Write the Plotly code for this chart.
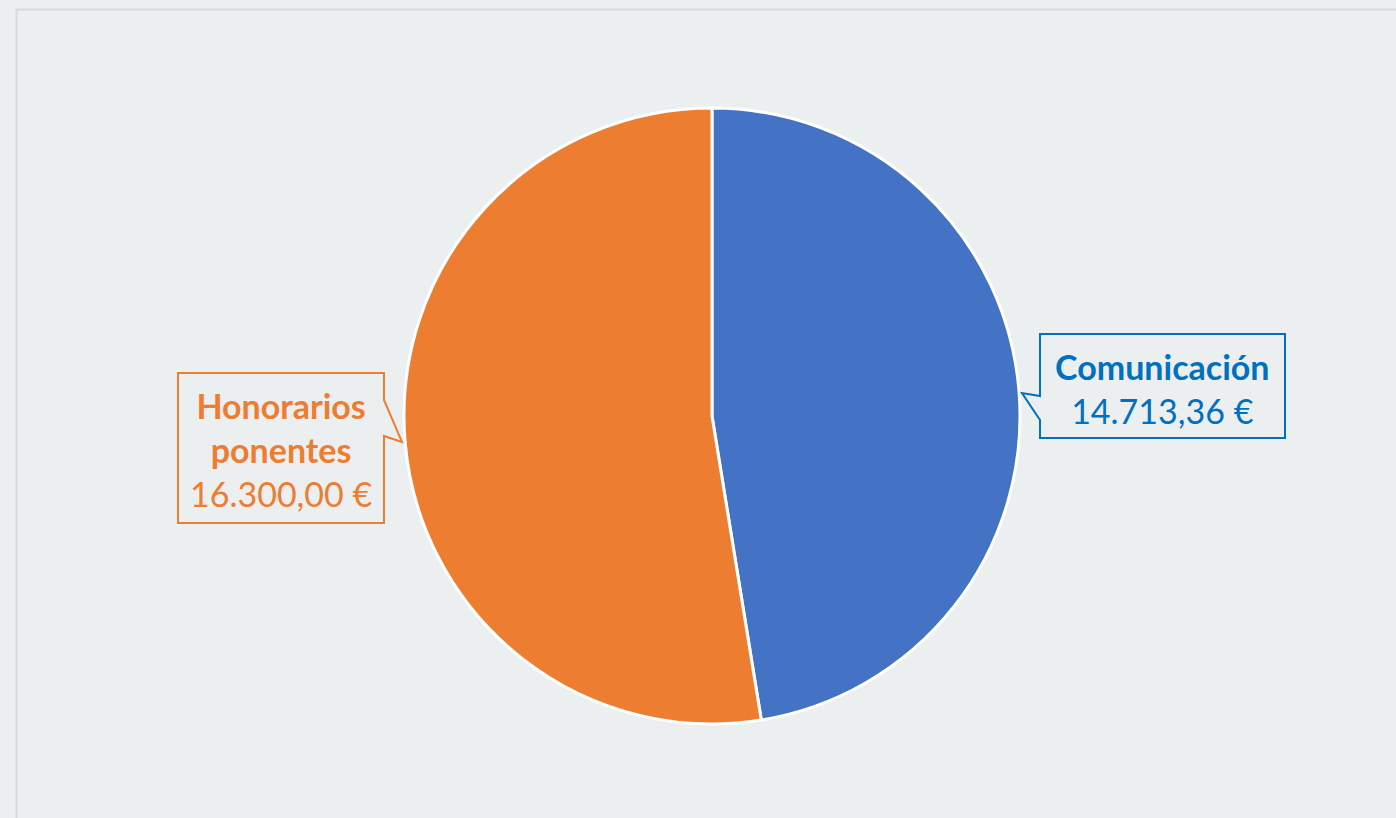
import plotly.graph_objects as go

# Data
categories = ["Comunicación", "Honorarios<br>ponentes"]
values = [14713.36, 16300.00]
slice_colors = ["#4472C4", "#ED7D31"]
label_colors = ["#0070C0", "#ED7D31"]

W, H = 1396, 818
BG = "#EBEFF0"


def eur(v):
    s = f"{v:,.2f}"
    s = s.replace(",", "X").replace(".", ",").replace("X", ".")
    return s + " €"


def px(x, y):
    return x / W, 1 - y / H


def path(points):
    pts = [px(x, y) for x, y in points]
    d = "M " + " L ".join(f"{a:.5f},{b:.5f}" for a, b in pts) + " Z"
    return d


cx, cy, r = 712, 416, 308
x0, yt = px(cx - r, cy - r)
x1, yb = px(cx + r, cy + r)

fig = go.Figure(go.Pie(
    labels=categories,
    values=values,
    sort=False,
    direction="clockwise",
    rotation=0,
    textinfo="none",
    marker=dict(colors=slice_colors, line=dict(color="#FFFFFF", width=3)),
    domain=dict(x=[x0, x1], y=[yb, yt]),
    showlegend=False,
))

# Callout boxes (positions in pixels)
blue_box = [(1040, 334), (1285, 334), (1285, 438), (1040, 438), (1040, 420),
            (1022, 393), (1040, 396)]
orange_box = [(178, 373), (384, 373), (384, 400), (402, 442), (384, 436),
              (384, 523), (178, 523)]

shapes = [
    dict(type="rect", xref="paper", yref="paper",
         x0=16.5 / W, x1=1.02, y0=-0.02, y1=1 - 9.5 / H,
         line=dict(color="#D6D9DA", width=2), fillcolor="rgba(0,0,0,0)", layer="below"),
    dict(type="path", xref="paper", yref="paper", path=path(blue_box),
         line=dict(color=label_colors[0], width=2), fillcolor=BG),
    dict(type="path", xref="paper", yref="paper", path=path(orange_box),
         line=dict(color=label_colors[1], width=2), fillcolor=BG),
]

label_pos = [(1162, 388), (281, 449)]
annotations = []
for cat, val, col, (lx, ly) in zip(categories, values, label_colors, label_pos):
    ax, ay = px(lx, ly)
    annotations.append(dict(
        xref="paper", yref="paper", x=ax, y=ay, xanchor="center", yanchor="middle",
        text=f"<b>{cat}</b><br>{eur(val)}", showarrow=False, align="center",
        font=dict(family="Lato", size=34, color=col),
    ))

fig.update_layout(
    width=W, height=H,
    margin=dict(l=0, r=0, t=0, b=0),
    paper_bgcolor=BG,
    plot_bgcolor=BG,
    shapes=shapes,
    annotations=annotations,
)

fig.write_html(
    "out.html",
    config={"displayModeBar": False},
    post_script="document.body.style.margin='0';document.body.style.background='" + BG + "';",
)
